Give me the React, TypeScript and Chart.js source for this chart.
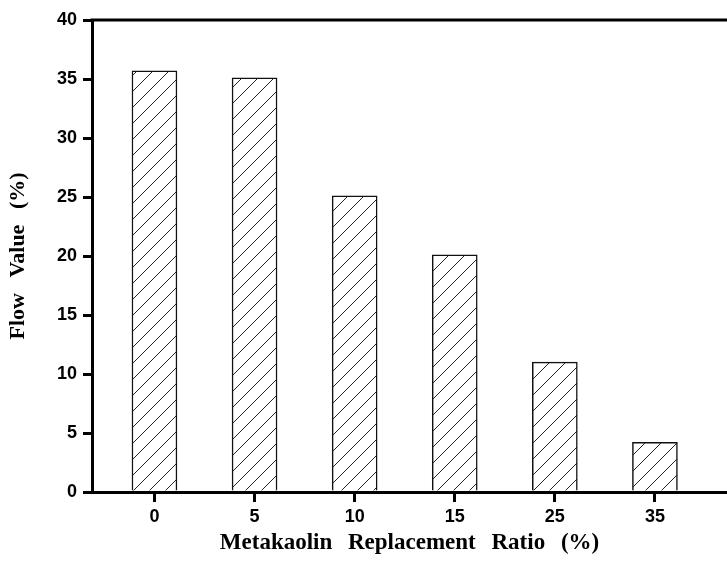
import React, { useEffect, useRef } from "react";
import { Chart, registerables } from "chart.js";

Chart.register(...registerables);

const CATEGORIES = ["0", "5", "10", "15", "25", "35"];
const FLOW_VALUES = [35.7, 35.1, 25.1, 20.1, 11.0, 4.2];
const Y_MIN = 0;
const Y_MAX = 40;
const Y_STEP = 5;
const X_TITLE = "Metakaolin Replacement Ratio (%)";
const Y_TITLE = "Flow Value (%)";

const W = 727;
const H = 561;
const TICK_FONT = { family: "'Liberation Sans', Arial, sans-serif", size: 18, weight: "bold" as const };
const TITLE_FONT = { family: "'Liberation Serif', 'Times New Roman', serif", size: 23, weight: "bold" as const };

function makeHatch(): CanvasPattern | string {
  const s = 16;
  const c = document.createElement("canvas");
  c.width = s;
  c.height = s;
  const g = c.getContext("2d");
  if (!g) return "#fff";
  g.fillStyle = "#fff";
  g.fillRect(0, 0, s, s);
  g.strokeStyle = "#222";
  g.lineWidth = 1;
  g.beginPath();
  g.moveTo(0, s);
  g.lineTo(s, 0);
  g.moveTo(-s / 2, s / 2);
  g.lineTo(s / 2, -s / 2);
  g.moveTo(s / 2, s * 1.5);
  g.lineTo(s * 1.5, s / 2);
  g.stroke();
  return g.createPattern(c, "repeat") || "#fff";
}

const framePlugin = {
  id: "frameTop",
  beforeDraw(chart: any) {
    (chart.ctx as any).wordSpacing = "10px";
  },
  afterDraw(chart: any) {
    const { ctx, chartArea } = chart;
    ctx.save();
    ctx.strokeStyle = "#000";
    ctx.lineWidth = 3;
    ctx.beginPath();
    ctx.moveTo(chartArea.left - 1.5, chartArea.top);
    ctx.lineTo(chart.width, chartArea.top);
    ctx.stroke();
    ctx.restore();
  },
};

export default function App() {
  const ref = useRef<HTMLCanvasElement | null>(null);

  useEffect(() => {
    if (!ref.current) return;
    const chart = new Chart(ref.current, {
      type: "bar",
      data: {
        datasets: [
          {
            data: FLOW_VALUES.map((v, i) => ({ x: i, y: v })),
            backgroundColor: makeHatch() as any,
            borderColor: "#111",
            borderWidth: 1.5,
            barThickness: 45,
          },
        ],
      },
      options: {
        responsive: false,
        animation: false,
        devicePixelRatio: 1,
        layout: { padding: { top: 20, left: 0, right: 0, bottom: 0 } },
        plugins: { legend: { display: false }, tooltip: { enabled: false } },
        scales: {
          x: {
            type: "linear",
            offset: false,
            min: -0.624,
            max: 5.72,
            afterBuildTicks: (s: any) => {
              s.ticks = CATEGORIES.map((_, i) => ({ value: i }));
            },
            afterFit: (s: any) => {
              s.height = H - 492;
            },
            ticks: {
              color: "#000",
              font: TICK_FONT,
              padding: 4,
              maxRotation: 0,
              autoSkip: false,
              callback: (v: any) => CATEGORIES[Number(v)] ?? "",
            },
            grid: { display: true, offset: false, drawOnChartArea: false, drawTicks: true, tickLength: 10, lineWidth: 3, color: "#000" },
            border: { display: true, width: 3, color: "#000" },
            title: { display: true, text: X_TITLE, color: "#000", font: TITLE_FONT, padding: { top: 0, bottom: 4 } },
          },
          y: {
            type: "linear",
            min: Y_MIN,
            max: Y_MAX,
            afterFit: (s: any) => {
              s.width = 92;
            },
            ticks: { stepSize: Y_STEP, color: "#000", font: TICK_FONT, padding: 6 },
            grid: { display: true, drawOnChartArea: false, drawTicks: true, tickLength: 9, lineWidth: 3, color: "#000" },
            border: { display: true, width: 3, color: "#000" },
            title: { display: true, text: Y_TITLE, color: "#000", font: { ...TITLE_FONT, size: 22 }, padding: { top: 5, bottom: 0 } },
          },
        },
      },
      plugins: [framePlugin],
    });
    return () => chart.destroy();
  }, []);

  return (
    <div style={{ position: "fixed", left: 0, top: 0, width: W, height: H, background: "#fff" }}>
      <canvas ref={ref} width={W} height={H} style={{ width: W, height: H, display: "block" }} />
    </div>
  );
}
